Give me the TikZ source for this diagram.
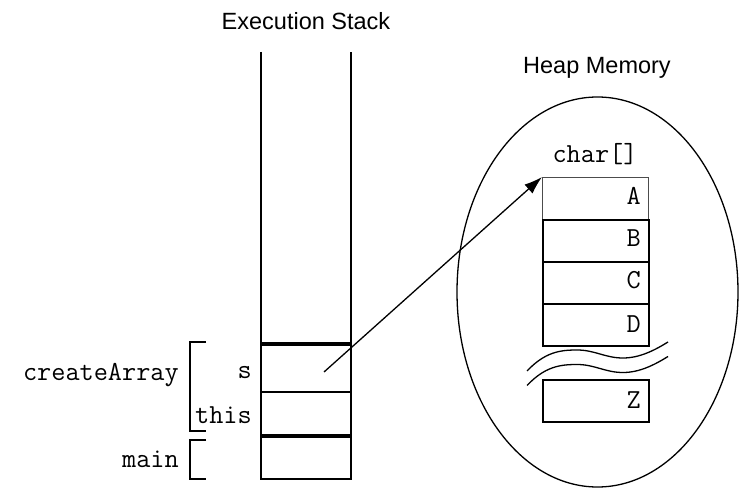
\documentclass[tikz,border=0pt]{standalone}
\usepackage{fontspec}
\setmainfont{Liberation Sans}
\usetikzlibrary{arrows.meta}
\begin{document}
\begin{tikzpicture}[x=1pt,y=-1pt,
  sans/.style={font=\fontsize{23.5}{27}\selectfont, inner sep=0pt},
  mono/.style={font=\ttfamily\fontsize{27.5}{31}\selectfont, inner sep=0pt},
  stackline/.style={line width=2pt},
  frameline/.style={line width=4.5pt},
  bracket/.style={line width=2pt},
  abox/.style={draw, line width=1.8pt, minimum width=106pt, minimum height=42pt, inner sep=0pt, anchor=north west},
  thin/.style={line width=1.3pt}]
\useasboundingbox (0,0) rectangle (748,492);
% titles
\node[sans, anchor=base] (title) at (306,30) {Execution Stack};
\node[sans, anchor=base] (heap) at (597,74) {Heap Memory};
% stack
\draw[stackline] (261,52) -- (261,479) -- (351,479) -- (351,52);
\draw[stackline] (261,392) -- (351,392);
\draw[frameline] (261,344) -- (351,344);
\draw[frameline] (261,436) -- (351,436);
\coordinate (sptr) at (324,372);
% labels
\node[mono, anchor=base east] (ls) at (252,378) {s};
\node[mono, anchor=base east] (lthis) at (252,423) {this};
\node[mono, anchor=base east] (lca) at (179,380) {createArray};
\node[mono, anchor=base east] (lmain) at (179,467) {main};
\draw[bracket] (206,342) -- (190,342) -- (190,431) -- (206,431);
\draw[bracket] (206,440) -- (190,440) -- (190,479) -- (206,479);
% heap
\draw[thin] (597.5,292) ellipse [x radius=140.5, y radius=195];
\node[mono, anchor=base] (ctype) at (595,163) {char[]};
\node[abox, line width=0.8pt, draw=black!70] (A) at (542,177) {};
\node[abox] (B) at (542,219) {};
\node[abox] (C) at (542,261) {};
\node[abox] (D) at (542,303) {};
\node[abox] (Z) at (542,379) {};
\node[mono, anchor=base east] (tA) at (641,205) {A};
\node[mono, anchor=base east] (tB) at (641,247) {B};
\node[mono, anchor=base east] (tC) at (641,289) {C};
\node[mono, anchor=base east] (tD) at (641,332) {D};
\node[mono, anchor=base east] (tZ) at (641,408) {Z};
% break marks
\foreach \dy in {0,14.5}{
  \draw[thin, yshift=-\dy pt] (527,371) .. controls (545,352) and (560,350) .. (577,350)
     .. controls (595,350) and (605,358) .. (623,358)
     .. controls (640,358) and (655,350) .. (668,342);
}
% pointer
\draw[thin, -{Latex[length=18pt,width=12pt]}] (sptr) -- (A.north west);
\end{tikzpicture}
\end{document}
